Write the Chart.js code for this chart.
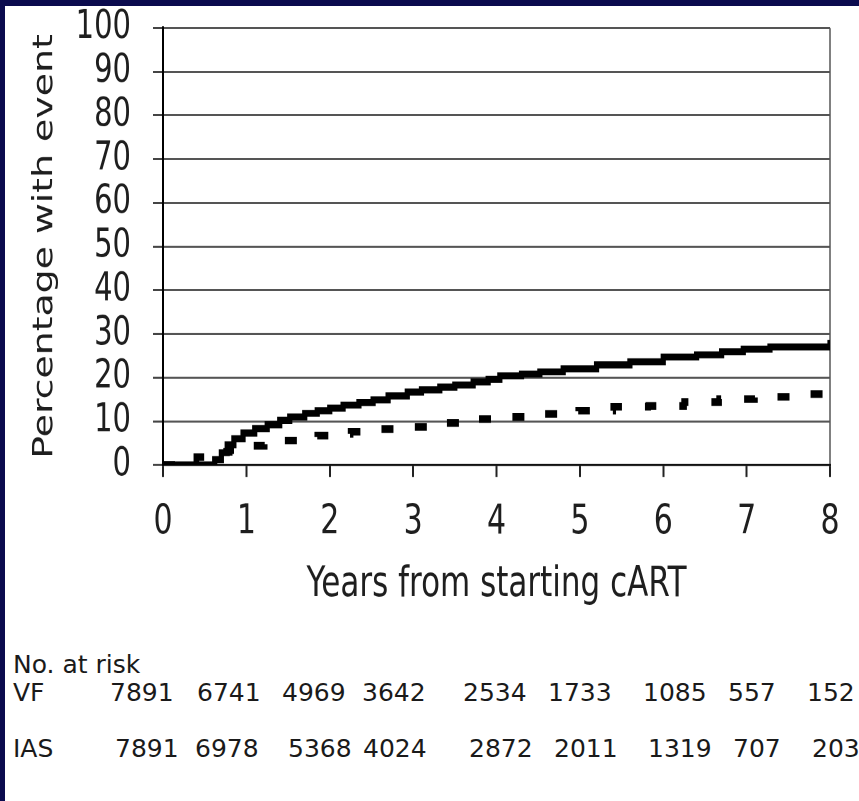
<!DOCTYPE html>
<html><head><meta charset="utf-8">
<script src="https://cdn.jsdelivr.net/npm/chart.js@4.4.1/dist/chart.umd.min.js"></script>
<style>
html,body{margin:0;padding:0;background:#0b0b4e;width:859px;height:801px;overflow:hidden;}
#page{position:absolute;left:5px;top:6px;width:854px;height:795px;background:#fff;}
#wrap{position:absolute;left:0;top:0;width:859px;height:470px;transform:scaleY(1.35);transform-origin:0 0;}
canvas{display:block}
.t{position:absolute;font-family:'DejaVu Sans',Verdana,sans-serif;font-size:25px;color:#1a1a1a;white-space:nowrap;line-height:1}
</style></head>
<body>
<div id="page"></div>
<div id="wrap"><canvas id="c" width="859" height="470"></canvas></div>
<div id="risk"></div>
<script>
// Kaplan-Meier style cumulative percentages
const vfYears = [0, 0.55, 0.62, 0.70, 0.77, 0.85, 0.96, 1.10, 1.25, 1.40, 1.52, 1.70, 1.85, 2.00, 2.16, 2.35, 2.52, 2.70, 2.93, 3.10, 3.32, 3.50, 3.72, 3.90, 4.04, 4.30, 4.52, 4.80, 5.20, 5.60, 6.00, 6.40, 6.70, 6.96, 7.28, 7.97, 8.00];
const vfPct   = [0, 0, 1.2, 2.8, 4.6, 6.0, 7.3, 8.3, 9.2, 10.2, 11.0, 11.8, 12.4, 13.0, 13.7, 14.3, 14.9, 15.8, 16.7, 17.2, 17.8, 18.3, 19.0, 19.6, 20.4, 20.8, 21.3, 22.0, 22.9, 23.6, 24.7, 25.2, 25.9, 26.5, 27.0, 27.0, 28.6];
const iasYears = [0, 0.40, 0.62, 0.72, 0.80, 0.90, 1.00, 1.22, 1.40, 1.62, 1.85, 2.04, 2.25, 2.46, 2.87, 3.28, 3.70, 4.12, 4.56, 4.98, 5.40, 5.82, 6.25, 6.67, 7.10, 7.53, 7.94, 8.00];
const iasPct   = [0, 1.8, 2.4, 3.0, 3.4, 3.9, 4.4, 5.0, 5.6, 6.2, 6.7, 7.1, 7.6, 8.2, 8.7, 9.6, 10.5, 11.0, 11.7, 12.4, 13.3, 13.5, 14.4, 15.1, 15.6, 16.2, 16.5, 17.2];

const xTicks = [0, 1, 2, 3, 4, 5, 6, 7, 8];
const yTicks = [0, 10, 20, 30, 40, 50, 60, 70, 80, 90, 100];

const riskHeader = 'No. at risk';
const riskLabels = ['VF', 'IAS'];
const riskVF  = [7891, 6741, 4969, 3642, 2534, 1733, 1085, 557, 152];
const riskIAS = [7891, 6978, 5368, 4024, 2872, 2011, 1319, 707, 203];

// layout of the risk table (page pixels)
const riskColLeftVF  = [110, 197, 282, 362, 463, 548, 643, 728, 807];
const riskColLeftIAS = [115, 195, 288, 363, 469, 554, 648, 733, 812];
const riskRowTop = {header: 652, VF: 680, IAS: 736};

const FONT = "'DejaVu Sans', Verdana, sans-serif";

const toXY = (xs, ys) => xs.map((x, i) => ({x: x, y: ys[i]}));

new Chart(document.getElementById('c'), {
  type: 'line',
  data: {
    datasets: [
      {label: 'VF', data: toXY(vfYears, vfPct), stepped: true, borderColor: '#000', borderWidth: 5.2,
       pointRadius: 0, fill: false, borderCapStyle: 'butt'},
      {label: 'IAS', data: toXY(iasYears, iasPct), stepped: true, borderColor: '#000', borderWidth: 5.6,
       borderDash: [12, 23], pointRadius: 0, fill: false, borderCapStyle: 'butt'}
    ]
  },
  options: {
    responsive: false,
    animation: false,
    devicePixelRatio: 2,
    layout: {padding: {left: 5, top: 20.7, right: 29, bottom: 0}},
    plugins: {legend: {display: false}, tooltip: {enabled: false}},
    scales: {
      x: {
        type: 'linear', min: 0, max: 8,
        afterBuildTicks: s => { s.ticks = xTicks.map(v => ({value: v})); },
        ticks: {autoSkip: false, maxRotation: 0, padding: 16, color: '#1e1e1e', font: {family: FONT, size: 30}},
        grid: {color: c => (c.tick && c.tick.value === 8) ? '#808080' : 'rgba(0,0,0,0)', lineWidth: 2,
               tickLength: 9, tickColor: '#222', tickWidth: 2},
        border: {display: true, color: '#111', width: 1.6},
        title: {display: true, text: 'Years from starting cART', color: '#1e1e1e',
                font: {family: FONT, size: 31}, padding: {top: 0, bottom: 18}},
        afterFit: s => { s.height = 125.6; }
      },
      y: {
        min: 0, max: 100,
        afterBuildTicks: s => { s.ticks = yTicks.map(v => ({value: v})); },
        ticks: {autoSkip: false, padding: 22, color: '#1e1e1e', font: {family: FONT, size: 29}},
        grid: {color: '#555', lineWidth: 1.5, tickLength: 10, tickColor: '#444', tickWidth: 1.5},
        border: {display: true, color: '#000', width: 2},
        title: {display: true, text: 'Percentage with event', color: '#1e1e1e',
                font: {family: FONT, size: 28}, padding: {top: 23, bottom: 0}},
        afterFit: s => { s.width = 158; s.paddingTop = 0; s.paddingBottom = 0; }
      }
    }
  }
});

// risk table as real text
const risk = document.getElementById('risk');
function addText(txt, left, top) {
  const d = document.createElement('div');
  d.className = 't';
  d.textContent = txt;
  d.style.left = left + 'px';
  d.style.top = top + 'px';
  risk.appendChild(d);
}
addText(riskHeader, 13, riskRowTop.header);
addText(riskLabels[0], 13, riskRowTop.VF);
addText(riskLabels[1], 13, riskRowTop.IAS);
riskVF.forEach((v, i) => addText(String(v), riskColLeftVF[i], riskRowTop.VF));
riskIAS.forEach((v, i) => addText(String(v), riskColLeftIAS[i], riskRowTop.IAS));
</script>
</body></html>
